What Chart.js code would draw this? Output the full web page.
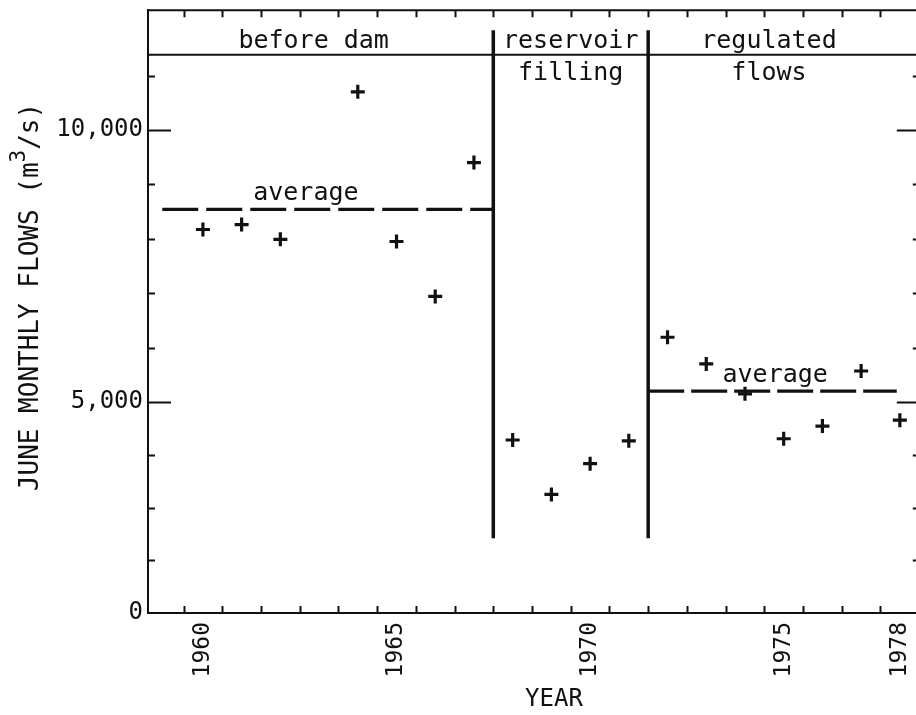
<!DOCTYPE html>
<html>
<head>
<meta charset="utf-8">
<title>June monthly flows</title>
<script src="https://cdn.jsdelivr.net/npm/chart.js@4"></script>
<style>
  html, body { margin: 0; padding: 0; background: #fff; overflow: hidden; }
  #wrap { width: 930px; height: 715px; }
</style>
</head>
<body>
<div id="wrap"><canvas id="flowChart" width="930" height="715"></canvas></div>
<script>
// June monthly flows (m3/s) by year, no value for 1963
const years = [1960, 1961, 1962, 1964, 1965, 1966, 1967, 1968, 1969, 1970, 1971, 1972, 1973, 1974, 1975, 1976, 1977, 1978];
const flows = [8170, 8260, 7990, 10700, 7950, 6940, 9400, 4100, 2810, 3540, 4080, 6190, 5700, 5150, 4130, 4430, 5570, 4570];

// period dividers (reservoir filling between them) and averages
const dividerYears = [1967.5, 1971.5];
const dividerSpan = [1770, 11830];
const beforeAvg = [1958.95, 1967.5, 8540];
const regulatedAvg = [1971.5, 1977.92, 5200];
const headerLevel = 11380;

// axis ticks
const xLabelYears = [1960, 1965, 1970, 1975, 1978];
const xMarkYears = [1959.5, 1960.5, 1961.5, 1962.5, 1963.5, 1964.5, 1965.5, 1966.5, 1967.5, 1968.5,
                    1969.5, 1970.5, 1971.5, 1972.5, 1973.5, 1974.5, 1975.5, 1976.5, 1977.5, 1978.5];
const yMajor = [0, 5000, 10000];
const yMinor = [1250, 2500, 3750, 6000, 7000, 8000, 9000, 11000];

// header texts: [text, centre year, row]
const periodLabels = [
  ['before dam', 1962.86, 0],
  ['reservoir', 1969.5, 0],
  ['filling', 1969.5, 1],
  ['regulated', 1974.62, 0],
  ['flows', 1974.62, 1]
];
const averageLabels = [
  ['average', 1962.66, beforeAvg[2]],
  ['average', 1974.78, regulatedAvg[2]]
];

const FONT = 'DejaVu Sans Mono';
const INK = '#111';

// flow axis is stretched differently below and above 5,000
const yKnots = [[0, 0], [5000, 0.35], [12200, 1]];

function flowToDecimal(v) {
  for (let i = 1; i < yKnots.length; i++) {
    const a = yKnots[i - 1], b = yKnots[i];
    if (v <= b[0] || i === yKnots.length - 1) {
      return a[1] + (v - a[0]) / (b[0] - a[0]) * (b[1] - a[1]);
    }
  }
  return 0;
}
function decimalToFlow(d) {
  for (let i = 1; i < yKnots.length; i++) {
    const a = yKnots[i - 1], b = yKnots[i];
    if (d <= b[1] || i === yKnots.length - 1) {
      return a[0] + (d - a[1]) / (b[1] - a[1]) * (b[0] - a[0]);
    }
  }
  return 0;
}

class FlowScale extends Chart.LinearScale {
  getPixelForValue(value) {
    return this.getPixelForDecimal(flowToDecimal(value));
  }
  getValueForPixel(pixel) {
    return decimalToFlow(this.getDecimalForPixel(pixel));
  }
}
FlowScale.id = 'flow';
FlowScale.defaults = Object.assign({}, Chart.LinearScale.defaults);
Chart.register(FlowScale);

function segment(x1, x2, y) {
  return [{ x: x1, y: y }, { x: x2, y: y }];
}

// no extra room for overhanging tick labels
function noPadding(s) {
  s.paddingTop = 0;
  s.paddingBottom = 0;
  s.paddingLeft = 0;
  s.paddingRight = 0;
}

// frame, inward tick marks and all the texts
const decorations = {
  id: 'decorations',
  afterDraw(chart) {
    const ctx = chart.ctx;
    const area = chart.chartArea;
    const xs = chart.scales.x, ys = chart.scales.y;
    ctx.save();
    ctx.strokeStyle = INK;
    ctx.fillStyle = INK;

    // top and right edges of the frame
    ctx.lineWidth = 2;
    ctx.beginPath();
    ctx.moveTo(area.left, area.top);
    ctx.lineTo(area.right, area.top);
    ctx.lineTo(area.right, area.bottom);
    ctx.stroke();

    // year marks on bottom and top
    ctx.lineWidth = 2;
    xMarkYears.forEach(yr => {
      const px = Math.round(xs.getPixelForValue(yr)) + 0.5;
      ctx.beginPath();
      ctx.moveTo(px, area.bottom);
      ctx.lineTo(px, area.bottom - 7);
      ctx.moveTo(px, area.top);
      ctx.lineTo(px, area.top + 7);
      ctx.stroke();
    });

    // flow marks on left and right
    const yTick = (v, len) => {
      const py = Math.round(ys.getPixelForValue(v)) + 0.5;
      ctx.beginPath();
      ctx.moveTo(area.left, py);
      ctx.lineTo(area.left + len, py);
      ctx.moveTo(area.right, py);
      ctx.lineTo(area.right - len, py);
      ctx.stroke();
    };
    yMajor.slice(1).forEach(v => yTick(v, 23));
    yMinor.forEach(v => yTick(v, 7));

    // period headers
    const bandY = ys.getPixelForValue(headerLevel);
    ctx.font = '25px "' + FONT + '"';
    ctx.textAlign = 'center';
    ctx.textBaseline = 'alphabetic';
    periodLabels.forEach(([text, yr, row]) => {
      const py = row === 0 ? bandY - 7 : bandY + 25;
      ctx.fillText(text, xs.getPixelForValue(yr), py);
    });

    averageLabels.forEach(([text, yr, v]) => {
      ctx.fillText(text, xs.getPixelForValue(yr), ys.getPixelForValue(v) - 9);
    });

    // axis titles
    ctx.font = '24px "' + FONT + '"';
    ctx.fillText('YEAR', 554, 706);

    ctx.save();
    ctx.translate(31, 297);
    ctx.rotate(-Math.PI / 2);
    const main = 'JUNE MONTHLY FLOWS (m';
    const tail = '/s)';
    ctx.font = '26px "' + FONT + '"';
    const w1 = ctx.measureText(main).width;
    const w3 = ctx.measureText(tail).width;
    ctx.font = '21px "' + FONT + '"';
    const w2 = ctx.measureText('3').width;
    let x0 = -(w1 + w2 + w3) / 2;
    ctx.textAlign = 'left';
    ctx.textBaseline = 'middle';
    ctx.font = '26px "' + FONT + '"';
    ctx.fillText(main, x0, 0);
    ctx.font = '21px "' + FONT + '"';
    ctx.fillText('3', x0 + w1, -11);
    ctx.font = '26px "' + FONT + '"';
    ctx.fillText(tail, x0 + w1 + w2, 0);
    ctx.restore();

    ctx.restore();
  }
};

const lineStyle = {
  type: 'line',
  borderColor: INK,
  pointRadius: 0,
  fill: false,
  tension: 0
};

const ctx = document.getElementById('flowChart').getContext('2d');
const flowChart = new Chart(ctx, {
  type: 'scatter',
  data: {
    datasets: [
      {
        label: 'June flow',
        data: years.map((yr, i) => ({ x: yr, y: flows[i] })),
        pointStyle: 'cross',
        pointRadius: 7,
        pointBorderWidth: 3.2,
        borderColor: INK,
        backgroundColor: INK
      },
      Object.assign({}, lineStyle, {
        label: 'before dam average',
        data: segment(beforeAvg[0], beforeAvg[1], beforeAvg[2]),
        borderWidth: 3.2,
        borderDash: [36, 8]
      }),
      Object.assign({}, lineStyle, {
        label: 'regulated average',
        data: segment(regulatedAvg[0], regulatedAvg[1], regulatedAvg[2]),
        borderWidth: 3.2,
        borderDash: [36, 7]
      }),
      Object.assign({}, lineStyle, {
        label: 'dam closed',
        data: dividerSpan.map(v => ({ x: dividerYears[0], y: v })),
        borderWidth: 3.5
      }),
      Object.assign({}, lineStyle, {
        label: 'reservoir full',
        data: dividerSpan.map(v => ({ x: dividerYears[1], y: v })),
        borderWidth: 3.5
      }),
      Object.assign({}, lineStyle, {
        label: 'header',
        data: segment(1958.582, 1978.515, headerLevel),
        borderWidth: 2
      })
    ]
  },
  options: {
    responsive: false,
    animation: false,
    devicePixelRatio: 1,
    layout: { padding: { top: 8, right: 9, left: 0, bottom: 0 } },
    plugins: {
      legend: { display: false },
      tooltip: { enabled: false }
    },
    scales: {
      x: {
        type: 'linear',
        min: 1958.582,
        max: 1978.515,
        afterFit: s => { s.height = 102; noPadding(s); },
        afterBuildTicks: s => { s.ticks = xLabelYears.map(v => ({ value: v })); },
        grid: { display: false, drawTicks: false },
        border: { display: true, color: INK, width: 2 },
        ticks: {
          color: INK,
          font: { family: FONT, size: 23 },
          minRotation: 90,
          maxRotation: 90,
          autoSkip: false,
          padding: 9,
          callback: v => String(v)
        }
      },
      y: {
        type: 'flow',
        min: 0,
        max: 12200,
        afterFit: s => { s.width = 148; noPadding(s); },
        afterBuildTicks: s => { s.ticks = yMajor.map(v => ({ value: v })); },
        grid: { display: false, drawTicks: false },
        border: { display: true, color: INK, width: 2 },
        ticks: {
          color: INK,
          font: { family: FONT, size: 24 },
          padding: 5,
          callback: v => v.toLocaleString('en-US')
        }
      }
    }
  },
  plugins: [decorations]
});
</script>
</body>
</html>
